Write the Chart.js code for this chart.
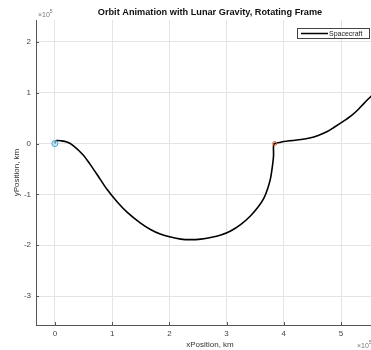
<!DOCTYPE html>
<html><head><meta charset="utf-8">
<script src="https://cdn.jsdelivr.net/npm/chart.js@4/dist/chart.umd.min.js"></script>
<style>html,body{margin:0;padding:0;overflow:hidden;background:#fff}#wrap{width:390px;height:350px}</style>
</head><body><div id="wrap"><canvas id="c" width="390" height="350"></canvas></div>
<script>
// Trajectory in units of 1e5 km
const trajX = [0.00,0.01,0.03,0.10,0.21,0.32,0.49,0.61,0.79,0.91,1.09,1.26,1.49,1.67,1.84,2.02,2.20,2.37,2.55,2.72,2.90,3.07,3.25,3.42,3.55,3.65,3.72,3.77,3.80,3.82,3.82,3.84,3.92,4.00,4.15,4.30,4.45,4.60,4.75,4.88,5.03,5.18,5.30,5.40,5.54,5.70];
const trajY = [0.00,0.04,0.06,0.055,0.03,-0.04,-0.22,-0.40,-0.70,-0.90,-1.15,-1.35,-1.56,-1.69,-1.78,-1.84,-1.88,-1.89,-1.88,-1.85,-1.80,-1.72,-1.59,-1.42,-1.25,-1.08,-0.88,-0.67,-0.45,-0.24,-0.04,0.00,0.02,0.04,0.06,0.08,0.11,0.16,0.23,0.32,0.43,0.55,0.67,0.79,0.95,1.14];
const startPt = [0, 0];
const moonPt = [3.84, 0];
const xTicks = [0,1,2,3,4,5];
const yTicks = [-3,-2,-1,0,1,2];
const titleText = "Orbit Animation with Lunar Gravity, Rotating Frame";
const xLabel = "xPosition, km";
const yLabel = "yPosition, km";
const seriesName = "Spacecraft";

const pts = trajX.map((x,i)=>({x:x,y:trajY[i]}));
const F = '"Liberation Sans", Arial, sans-serif';
const AX = '#555';

const overlay = {
  id:'overlay',
  afterDraw(chart){
    const ctx = chart.ctx, ca = chart.chartArea;
    const xs = chart.scales.x, ys = chart.scales.y;
    ctx.save();
    ctx.strokeStyle = AX; ctx.lineWidth = 1;
    xTicks.forEach(v=>{const p=Math.round(xs.getPixelForValue(v))+0.5;ctx.beginPath();ctx.moveTo(p,ca.bottom);ctx.lineTo(p,ca.bottom-3);ctx.stroke();});
    yTicks.forEach(v=>{const p=Math.round(ys.getPixelForValue(v))+0.5;ctx.beginPath();ctx.moveTo(ca.left,p);ctx.lineTo(ca.left+3,p);ctx.stroke();});
    ctx.fillStyle = '#111'; ctx.font = 'bold 9.2px ' + F; ctx.textAlign='center'; ctx.textBaseline='middle';
    ctx.fillText(titleText, (ca.left+ca.right)/2, 12);
    ctx.fillStyle = '#777'; ctx.font = '7px ' + F; ctx.textAlign='left'; ctx.textBaseline='alphabetic';
    ctx.fillText('\u00d710', ca.left+2, 17);
    let w = ctx.measureText('\u00d710').width;
    ctx.font = '5px ' + F; ctx.fillText('5', ca.left+2+w, 13);
    ctx.font = '7px ' + F;
    ctx.fillText('\u00d710', 357, 348);
    w = ctx.measureText('\u00d710').width;
    ctx.font = '5px ' + F; ctx.fillText('5', 357+w, 344);
    const lx=297, ly=28, lw=72, lh=10;
    ctx.fillStyle='#fff'; ctx.fillRect(lx,ly,lw,lh);
    ctx.strokeStyle='#444'; ctx.lineWidth=1; ctx.strokeRect(lx+0.5,ly+0.5,lw,lh);
    ctx.strokeStyle='#000'; ctx.lineWidth=1.5; ctx.beginPath(); ctx.moveTo(lx+4,ly+5.5); ctx.lineTo(lx+31,ly+5.5); ctx.stroke();
    ctx.fillStyle='#222'; ctx.font='7px ' + F; ctx.textBaseline='middle'; ctx.textAlign='left';
    ctx.fillText(seriesName, lx+32, ly+6);
    ctx.restore();
  }
};

new Chart(document.getElementById('c'), {
  type:'scatter',
  data:{datasets:[
    {label:seriesName, data:pts, showLine:true, borderColor:'#000', borderWidth:1.6, pointRadius:0, tension:0.3, order:2},
    {label:'start', data:[{x:startPt[0],y:startPt[1]}], pointRadius:3, pointBackgroundColor:'rgba(180,220,240,0.6)', pointBorderColor:'#3fa6d8', pointBorderWidth:1, order:1},
    {label:'moon', data:[{x:moonPt[0],y:moonPt[1]}], pointRadius:2, pointBackgroundColor:'rgba(0,0,0,0)', pointBorderColor:'#e0602a', pointBorderWidth:1, order:1}
  ]},
  options:{
    responsive:false, animation:false, devicePixelRatio:1,
    layout:{padding:{top:20,right:6,left:12,bottom:0}},
    plugins:{legend:{display:false}, tooltip:{enabled:false}, title:{display:false}},
    scales:{
      x:{type:'linear', min:-0.33, max:5.75,
        afterBuildTicks(s){s.ticks = xTicks.map(v=>({value:v}));},
        afterFit(s){s.height=25;},
        grid:{color:'#e4e4e4', drawTicks:false, lineWidth:1},
        border:{display:true, color:AX, width:1},
        ticks:{color:'#444', font:{size:8, family:F}, padding:4, callback:v=>String(v), maxRotation:0},
        title:{display:true, text:xLabel, color:'#333', font:{size:8, family:F}, padding:{top:0,bottom:0}}
      },
      y:{type:'linear', min:-3.57, max:2.43,
        afterBuildTicks(s){s.ticks = yTicks.map(v=>({value:v}));},
        afterFit(s){s.width=24;},
        grid:{color:'#e4e4e4', drawTicks:false, lineWidth:1},
        border:{display:true, color:AX, width:1},
        ticks:{color:'#444', font:{size:8, family:F}, padding:5, callback:v=>String(v)},
        title:{display:true, text:yLabel, color:'#333', font:{size:8, family:F}, padding:{top:0,bottom:0}}
      }
    }
  },
  plugins:[overlay]
});
</script></body></html>
